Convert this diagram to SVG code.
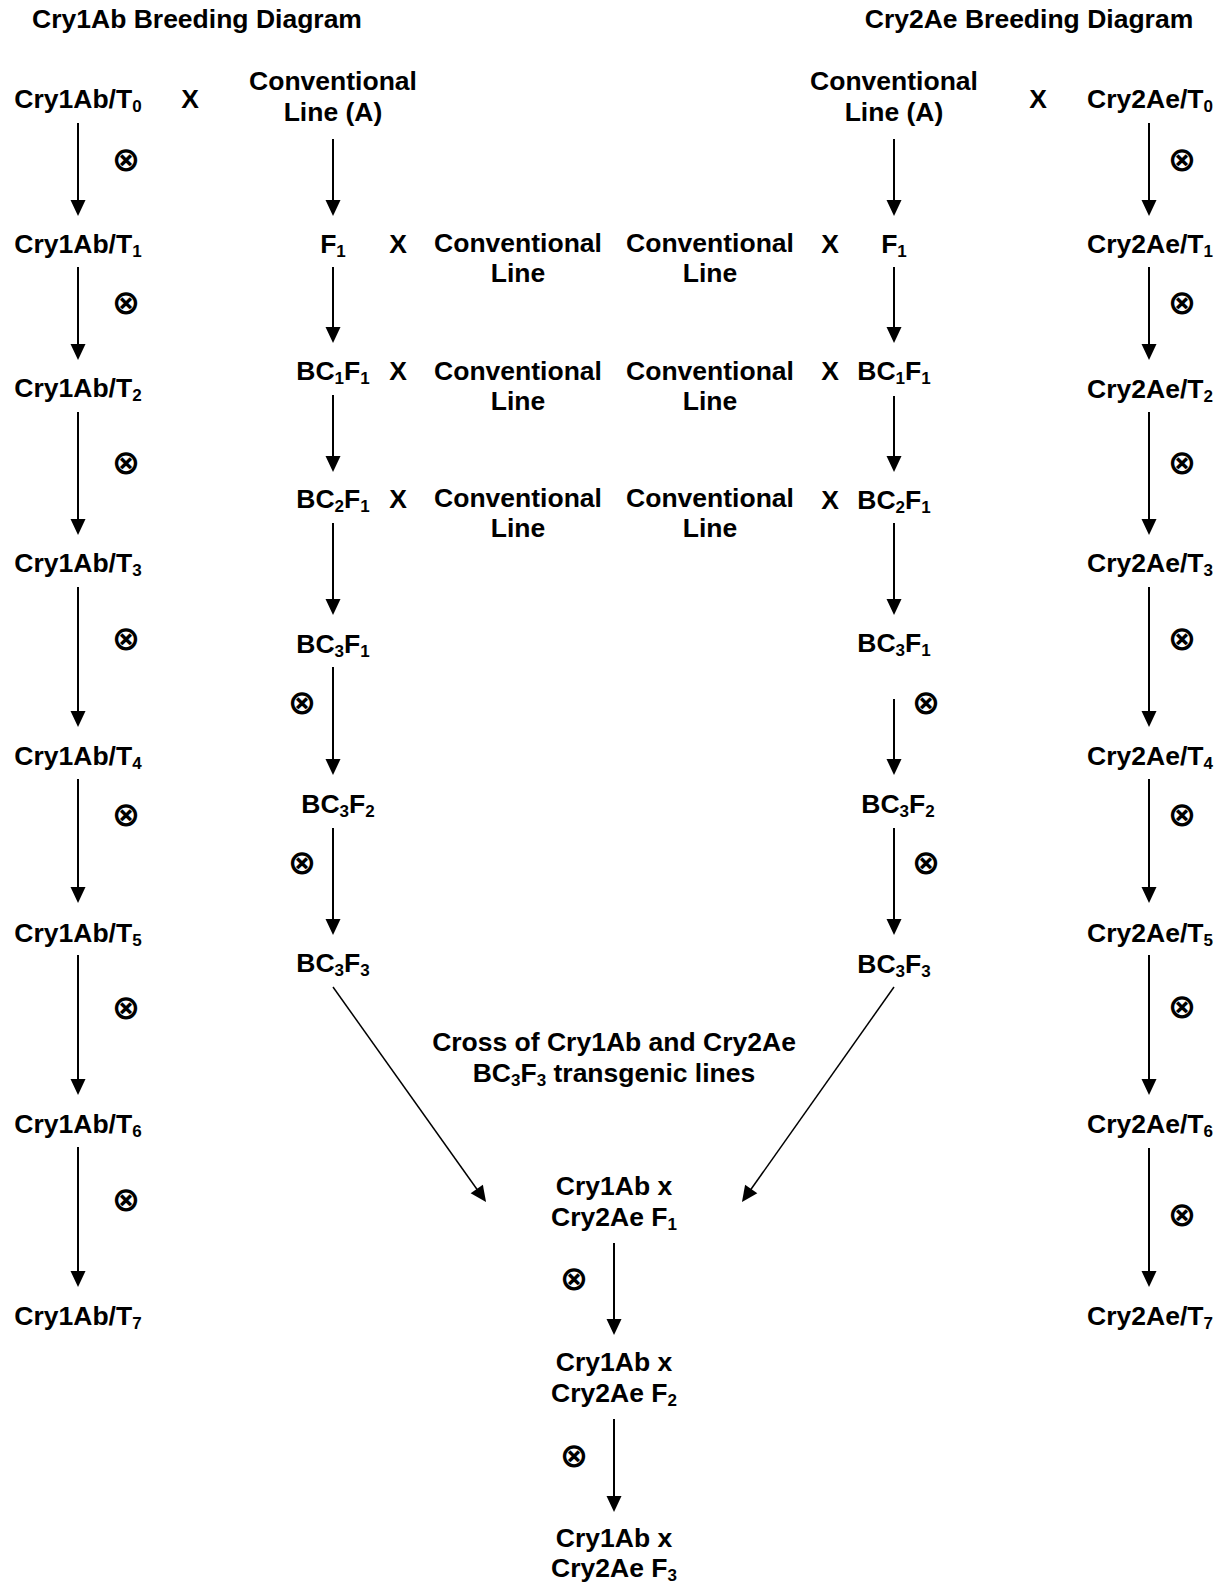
<svg xmlns="http://www.w3.org/2000/svg" width="1222" height="1585" viewBox="0 0 1222 1585">
<defs>
<style>
.t{font-family:"Liberation Sans",Arial,sans-serif;font-weight:bold;font-size:26.5px;fill:#000;text-anchor:middle}
.s{font-size:17px}
.o{font-family:"DejaVu Sans",sans-serif;font-weight:bold;font-size:34px;fill:#000;text-anchor:middle}
.a{stroke:#000;stroke-width:2;fill:none;marker-end:url(#ah)}
.d{stroke:#000;stroke-width:1.5;fill:none;marker-end:url(#ah)}
</style>
<marker id="ah" markerUnits="userSpaceOnUse" markerWidth="16" markerHeight="15" refX="8" refY="7.5" orient="auto" overflow="visible">
<path d="M0,0 L16,7.5 L0,15 z" fill="#000"/>
</marker>
</defs>
<rect width="1222" height="1585" fill="#fff"/>

<g id="titles">
<text class="t" x="197" y="28">Cry1Ab Breeding Diagram</text>
<text class="t" x="1029" y="28">Cry2Ae Breeding Diagram</text>
</g>

<!-- Left column: Cry1Ab selfing -->
<g id="cry1ab-t0"><text class="t" x="78" y="108">Cry1Ab/T<tspan class="s" dy="4">0</tspan></text></g>
<g id="cry1ab-t1"><text class="t" x="78" y="253">Cry1Ab/T<tspan class="s" dy="4">1</tspan></text></g>
<g id="cry1ab-t2"><text class="t" x="78" y="397">Cry1Ab/T<tspan class="s" dy="4">2</tspan></text></g>
<g id="cry1ab-t3"><text class="t" x="78" y="572">Cry1Ab/T<tspan class="s" dy="4">3</tspan></text></g>
<g id="cry1ab-t4"><text class="t" x="78" y="765">Cry1Ab/T<tspan class="s" dy="4">4</tspan></text></g>
<g id="cry1ab-t5"><text class="t" x="78" y="942">Cry1Ab/T<tspan class="s" dy="4">5</tspan></text></g>
<g id="cry1ab-t6"><text class="t" x="78" y="1133">Cry1Ab/T<tspan class="s" dy="4">6</tspan></text></g>
<g id="cry1ab-t7"><text class="t" x="78" y="1325">Cry1Ab/T<tspan class="s" dy="4">7</tspan></text></g>

<!-- Right column: Cry2Ae selfing -->
<g id="cry2ae-t0"><text class="t" x="1150" y="108">Cry2Ae/T<tspan class="s" dy="4">0</tspan></text></g>
<g id="cry2ae-t1"><text class="t" x="1150" y="253">Cry2Ae/T<tspan class="s" dy="4">1</tspan></text></g>
<g id="cry2ae-t2"><text class="t" x="1150" y="398">Cry2Ae/T<tspan class="s" dy="4">2</tspan></text></g>
<g id="cry2ae-t3"><text class="t" x="1150" y="572">Cry2Ae/T<tspan class="s" dy="4">3</tspan></text></g>
<g id="cry2ae-t4"><text class="t" x="1150" y="765">Cry2Ae/T<tspan class="s" dy="4">4</tspan></text></g>
<g id="cry2ae-t5"><text class="t" x="1150" y="942">Cry2Ae/T<tspan class="s" dy="4">5</tspan></text></g>
<g id="cry2ae-t6"><text class="t" x="1150" y="1133">Cry2Ae/T<tspan class="s" dy="4">6</tspan></text></g>
<g id="cry2ae-t7"><text class="t" x="1150" y="1325">Cry2Ae/T<tspan class="s" dy="4">7</tspan></text></g>

<!-- Left backcross column -->
<g id="conv-a-left"><text class="t" x="333" y="90">Conventional</text><text class="t" x="333" y="121">Line (A)</text></g>
<g id="x-left-top"><text class="t" x="190" y="108">X</text></g>
<g id="f1-left"><text class="t" x="333" y="253">F<tspan class="s" dy="4">1</tspan></text></g>
<g id="x-left-1"><text class="t" x="398" y="253">X</text></g>
<g id="conv-left-1"><text class="t" x="518" y="252">Conventional</text><text class="t" x="518" y="282">Line</text></g>
<g id="bc1f1-left"><text class="t" x="333" y="380">BC<tspan class="s" dy="4">1</tspan><tspan dy="-4">F</tspan><tspan class="s" dy="4">1</tspan></text></g>
<g id="x-left-2"><text class="t" x="398" y="380">X</text></g>
<g id="conv-left-2"><text class="t" x="518" y="380">Conventional</text><text class="t" x="518" y="410">Line</text></g>
<g id="bc2f1-left"><text class="t" x="333" y="508">BC<tspan class="s" dy="4">2</tspan><tspan dy="-4">F</tspan><tspan class="s" dy="4">1</tspan></text></g>
<g id="x-left-3"><text class="t" x="398" y="508">X</text></g>
<g id="conv-left-3"><text class="t" x="518" y="507">Conventional</text><text class="t" x="518" y="537">Line</text></g>
<g id="bc3f1-left"><text class="t" x="333" y="653">BC<tspan class="s" dy="4">3</tspan><tspan dy="-4">F</tspan><tspan class="s" dy="4">1</tspan></text></g>
<g id="bc3f2-left"><text class="t" x="338" y="813">BC<tspan class="s" dy="4">3</tspan><tspan dy="-4">F</tspan><tspan class="s" dy="4">2</tspan></text></g>
<g id="bc3f3-left"><text class="t" x="333" y="972">BC<tspan class="s" dy="4">3</tspan><tspan dy="-4">F</tspan><tspan class="s" dy="4">3</tspan></text></g>

<!-- Right backcross column -->
<g id="conv-a-right"><text class="t" x="894" y="90">Conventional</text><text class="t" x="894" y="121">Line (A)</text></g>
<g id="x-right-top"><text class="t" x="1038" y="108">X</text></g>
<g id="f1-right"><text class="t" x="894" y="253">F<tspan class="s" dy="4">1</tspan></text></g>
<g id="x-right-1"><text class="t" x="830" y="253">X</text></g>
<g id="conv-right-1"><text class="t" x="710" y="252">Conventional</text><text class="t" x="710" y="282">Line</text></g>
<g id="bc1f1-right"><text class="t" x="894" y="380">BC<tspan class="s" dy="4">1</tspan><tspan dy="-4">F</tspan><tspan class="s" dy="4">1</tspan></text></g>
<g id="x-right-2"><text class="t" x="830" y="380">X</text></g>
<g id="conv-right-2"><text class="t" x="710" y="380">Conventional</text><text class="t" x="710" y="410">Line</text></g>
<g id="bc2f1-right"><text class="t" x="894" y="509">BC<tspan class="s" dy="4">2</tspan><tspan dy="-4">F</tspan><tspan class="s" dy="4">1</tspan></text></g>
<g id="x-right-3"><text class="t" x="830" y="509">X</text></g>
<g id="conv-right-3"><text class="t" x="710" y="507">Conventional</text><text class="t" x="710" y="537">Line</text></g>
<g id="bc3f1-right"><text class="t" x="894" y="652">BC<tspan class="s" dy="4">3</tspan><tspan dy="-4">F</tspan><tspan class="s" dy="4">1</tspan></text></g>
<g id="bc3f2-right"><text class="t" x="898" y="813">BC<tspan class="s" dy="4">3</tspan><tspan dy="-4">F</tspan><tspan class="s" dy="4">2</tspan></text></g>
<g id="bc3f3-right"><text class="t" x="894" y="973">BC<tspan class="s" dy="4">3</tspan><tspan dy="-4">F</tspan><tspan class="s" dy="4">3</tspan></text></g>

<!-- Cross of lines -->
<g id="cross-label"><text class="t" x="614" y="1051">Cross of Cry1Ab and Cry2Ae</text><text class="t" x="614" y="1082">BC<tspan class="s" dy="4">3</tspan><tspan dy="-4">F</tspan><tspan class="s" dy="4">3</tspan><tspan dy="-4"> transgenic lines</tspan></text></g>
<g id="cross-f1"><text class="t" x="614" y="1195">Cry1Ab x</text><text class="t" x="614" y="1226">Cry2Ae F<tspan class="s" dy="4">1</tspan></text></g>
<g id="cross-f2"><text class="t" x="614" y="1371">Cry1Ab x</text><text class="t" x="614" y="1402">Cry2Ae F<tspan class="s" dy="4">2</tspan></text></g>
<g id="cross-f3"><text class="t" x="614" y="1547">Cry1Ab x</text><text class="t" x="614" y="1577">Cry2Ae F<tspan class="s" dy="4">3</tspan></text></g>

<g id="connectors">
<!-- left column -->
<line class="a" x1="78" y1="123" x2="78" y2="208"/>
<line class="a" x1="78" y1="267" x2="78" y2="352"/>
<line class="a" x1="78" y1="412" x2="78" y2="527"/>
<line class="a" x1="78" y1="587" x2="78" y2="719"/>
<line class="a" x1="78" y1="779" x2="78" y2="895"/>
<line class="a" x1="78" y1="955" x2="78" y2="1087"/>
<line class="a" x1="78" y1="1147" x2="78" y2="1279"/>
<!-- right column -->
<line class="a" x1="1149" y1="123" x2="1149" y2="208"/>
<line class="a" x1="1149" y1="267" x2="1149" y2="352"/>
<line class="a" x1="1149" y1="412" x2="1149" y2="527"/>
<line class="a" x1="1149" y1="587" x2="1149" y2="719"/>
<line class="a" x1="1149" y1="779" x2="1149" y2="895"/>
<line class="a" x1="1149" y1="955" x2="1149" y2="1087"/>
<line class="a" x1="1149" y1="1148" x2="1149" y2="1279"/>
<!-- left backcross -->
<line class="a" x1="333" y1="139" x2="333" y2="208"/>
<line class="a" x1="333" y1="267" x2="333" y2="335"/>
<line class="a" x1="333" y1="395" x2="333" y2="464"/>
<line class="a" x1="333" y1="523" x2="333" y2="607"/>
<line class="a" x1="333" y1="667" x2="333" y2="767"/>
<line class="a" x1="333" y1="828" x2="333" y2="927"/>
<!-- right backcross -->
<line class="a" x1="894" y1="139" x2="894" y2="208"/>
<line class="a" x1="894" y1="267" x2="894" y2="335"/>
<line class="a" x1="894" y1="396" x2="894" y2="464"/>
<line class="a" x1="894" y1="523" x2="894" y2="607"/>
<line class="a" x1="894" y1="699" x2="894" y2="767"/>
<line class="a" x1="894" y1="828" x2="894" y2="927"/>
<!-- diagonals -->
<line class="d" x1="333" y1="987" x2="481.4" y2="1195.5"/>
<line class="d" x1="894" y1="987" x2="746.6" y2="1195.5"/>
<!-- bottom -->
<line class="a" x1="614" y1="1243" x2="614" y2="1327"/>
<line class="a" x1="614" y1="1419" x2="614" y2="1504"/>
</g>

<g id="selfing-marks">
<text class="o" x="126" y="171">⊗</text>
<text class="o" x="126" y="314">⊗</text>
<text class="o" x="126" y="474">⊗</text>
<text class="o" x="126" y="650">⊗</text>
<text class="o" x="126" y="826">⊗</text>
<text class="o" x="126" y="1019">⊗</text>
<text class="o" x="126" y="1211">⊗</text>
<text class="o" x="1182" y="171">⊗</text>
<text class="o" x="1182" y="314">⊗</text>
<text class="o" x="1182" y="474">⊗</text>
<text class="o" x="1182" y="650">⊗</text>
<text class="o" x="1182" y="826">⊗</text>
<text class="o" x="1182" y="1018">⊗</text>
<text class="o" x="1182" y="1226">⊗</text>
<text class="o" x="302" y="714">⊗</text>
<text class="o" x="302" y="874">⊗</text>
<text class="o" x="926" y="714">⊗</text>
<text class="o" x="926" y="874">⊗</text>
<text class="o" x="574" y="1290">⊗</text>
<text class="o" x="574" y="1467">⊗</text>
</g>
</svg>
